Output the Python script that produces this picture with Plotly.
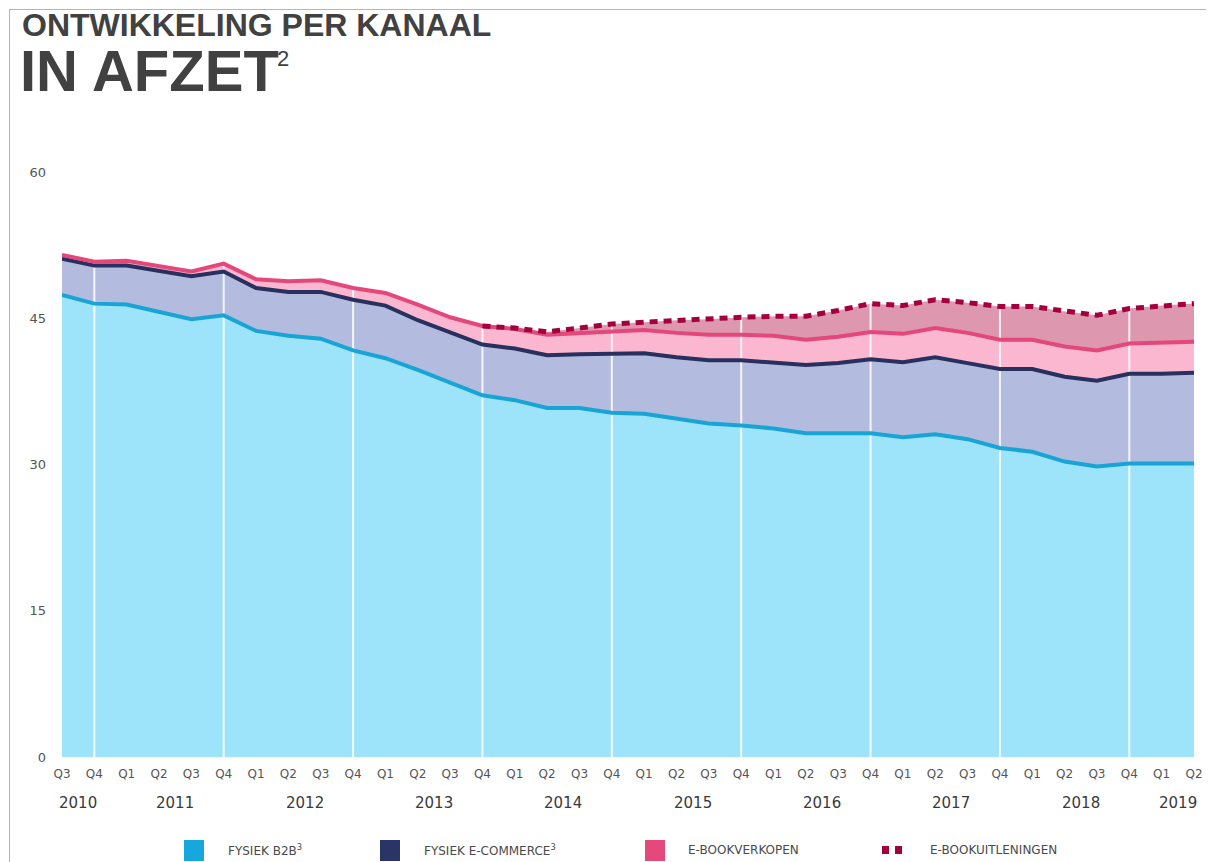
import numpy as np
import plotly.graph_objects as go

# de pagina heeft 8px body-marge: figuur iets kleiner maken
PAGE = 8
W, H = 1214 - PAGE, 862 - PAGE

# kwartalen Q3 2010 t/m Q2 2019
quarters = ['Q3', 'Q4',
            'Q1', 'Q2', 'Q3', 'Q4', 'Q1', 'Q2', 'Q3', 'Q4',
            'Q1', 'Q2', 'Q3', 'Q4', 'Q1', 'Q2', 'Q3', 'Q4',
            'Q1', 'Q2', 'Q3', 'Q4', 'Q1', 'Q2', 'Q3', 'Q4',
            'Q1', 'Q2', 'Q3', 'Q4', 'Q1', 'Q2', 'Q3', 'Q4',
            'Q1', 'Q2']
quarter_year = ['2010'] * 2 + ['2011'] * 4 + ['2012'] * 4 + ['2013'] * 4 + ['2014'] * 4 + \
               ['2015'] * 4 + ['2016'] * 4 + ['2017'] * 4 + ['2018'] * 4 + ['2019'] * 2
year_labels = ['2010', '2011', '2012', '2013', '2014', '2015', '2016', '2017', '2018', '2019']

fysiek_b2b = [47.4, 46.5, 46.4, 45.7, 44.9, 45.3, 43.7, 43.2, 42.9, 41.7,
              40.9, 39.7, 38.4, 37.1, 36.6, 35.8, 35.8, 35.3, 35.2, 34.7,
              34.2, 34.0, 33.7, 33.2, 33.2, 33.2, 32.8, 33.1, 32.6, 31.7,
              31.3, 30.3, 29.8, 30.1, 30.1, 30.1]
fysiek_ecommerce = [3.7, 3.9, 4.0, 4.2, 4.4, 4.5, 4.4, 4.5, 4.8, 5.2,
                    5.4, 5.1, 5.1, 5.2, 5.3, 5.4, 5.5, 6.0, 6.2, 6.3,
                    6.5, 6.7, 6.8, 7.0, 7.2, 7.6, 7.7, 7.9, 7.8, 8.1,
                    8.5, 8.7, 8.8, 9.2, 9.2, 9.3]
ebook_verkopen = [0.4, 0.4, 0.5, 0.5, 0.5, 0.8, 0.9, 1.1, 1.2, 1.2,
                  1.3, 1.6, 1.6, 1.9, 2.0, 2.1, 2.2, 2.3, 2.4, 2.5,
                  2.6, 2.6, 2.7, 2.6, 2.7, 2.8, 2.9, 3.0, 3.1, 3.0,
                  3.0, 3.1, 3.1, 3.1, 3.2, 3.2]
ebook_uitleningen = [None] * 13 + [0.0, 0.1, 0.3, 0.5, 0.8, 0.8, 1.3,
                                   1.6, 1.8, 2.0, 2.4, 2.7, 2.9, 2.9, 2.9, 3.1, 3.4,
                                   3.4, 3.6, 3.6, 3.6, 3.8, 3.9]

y_ticks = [0, 15, 30, 45, 60]

# plotgebied in schermpixels
L, R, T, B = 62, 1194, 172, 757


def px_x(p):
    return (p - L) / (R - L)


def px_y(p):
    return (B - p) / (B - T)


x = np.arange(len(quarters))
top_b2b = np.array(fysiek_b2b)
top_ecom = top_b2b + np.array(fysiek_ecommerce)
top_verk = top_ecom + np.array(ebook_verkopen)
uitl = np.array([np.nan if v is None else v for v in ebook_uitleningen])
top_uitl = top_verk + uitl

fig = go.Figure()

# vlakken
fills = [
    (fysiek_b2b, '#9de3fa'),
    (fysiek_ecommerce, '#b3bcde'),
    (ebook_verkopen, '#fbb7cf'),
    (ebook_uitleningen, '#dd97ae'),
]
for vals, col in fills:
    fig.add_trace(go.Scatter(x=x, y=vals, stackgroup='kanaal', mode='lines',
                             line=dict(width=0), fillcolor=col,
                             showlegend=False, hoverinfo='skip'))

# witte jaarscheidingen op Q4
tops = np.fmax(top_verk, top_uitl)
vx, vy = [], []
for i, q in enumerate(quarters):
    if q == 'Q4':
        vx += [x[i], x[i], None]
        vy += [0, tops[i], None]
fig.add_trace(go.Scatter(x=vx, y=vy, mode='lines', line=dict(color='rgba(255,255,255,0.85)', width=2),
                         showlegend=False, hoverinfo='skip'))

# lijnen
fig.add_trace(go.Scatter(x=x, y=top_b2b, mode='lines', line=dict(color='#18a5d6', width=4),
                         showlegend=False))
fig.add_trace(go.Scatter(x=x, y=top_ecom, mode='lines', line=dict(color='#27305e', width=4),
                         showlegend=False))
fig.add_trace(go.Scatter(x=x, y=top_verk, mode='lines', line=dict(color='#e4487a', width=4),
                         showlegend=False))
fig.add_trace(go.Scatter(x=x, y=top_uitl, mode='lines',
                         line=dict(color='#a3003d', width=5, dash='8px,6px'),
                         showlegend=False))

annotations = []
# jaartallen
for yr in year_labels:
    idx = [i for i, q in enumerate(quarter_year) if q == yr]
    annotations.append(dict(x=float(np.mean(idx)), y=px_y(803), xref='x', yref='paper',
                            text=yr, showarrow=False, xanchor='center', yanchor='middle',
                            font=dict(family='DejaVu Sans', size=15, color='#3a3a3a')))

# titel
annotations.append(dict(x=px_x(20), y=px_y(25), xref='paper', yref='paper',
                        text='<b>ONTWIKKELING PER KANAAL</b>', showarrow=False,
                        xanchor='left', yanchor='middle',
                        font=dict(family='Liberation Sans', size=32, color='#414141')))
annotations.append(dict(x=px_x(18), y=px_y(71), xref='paper', yref='paper',
                        text='<b>IN AFZET</b>', showarrow=False,
                        xanchor='left', yanchor='middle',
                        font=dict(family='Liberation Sans', size=58, color='#414141')))
annotations.append(dict(x=px_x(275), y=px_y(58), xref='paper', yref='paper',
                        text='2', showarrow=False,
                        xanchor='left', yanchor='middle',
                        font=dict(family='Liberation Sans', size=22, color='#414141')))

# legenda
legend_items = [
    ('FYSIEK B2B<sup>3</sup>', '#16a8dc', 184, 226),
    ('FYSIEK E-COMMERCE<sup>3</sup>', '#283566', 380, 422),
    ('E-BOOKVERKOPEN', '#e5487a', 645, 686),
    ('E-BOOKUITLENINGEN', '#a3003d', None, 928),
]
shapes = []
for label, col, sq, tx in legend_items:
    if sq is not None:
        shapes.append(dict(type='rect', xref='paper', yref='paper',
                           x0=px_x(sq), x1=px_x(sq + 20), y0=px_y(840), y1=px_y(861),
                           fillcolor=col, line=dict(width=0)))
    else:
        for s in (882, 895):
            shapes.append(dict(type='rect', xref='paper', yref='paper',
                               x0=px_x(s), x1=px_x(s + 7), y0=px_y(846), y1=px_y(854),
                               fillcolor=col, line=dict(width=0)))
    annotations.append(dict(x=px_x(tx), y=px_y(850), xref='paper', yref='paper',
                            text=label, showarrow=False, xanchor='left', yanchor='middle',
                            font=dict(family='DejaVu Sans', size=12, color='#4a4a4a')))

# kader
shapes.append(dict(type='line', xref='paper', yref='paper', x0=px_x(9), x1=px_x(1220),
                   y0=px_y(9.5), y1=px_y(9.5), line=dict(color='#b5b5b5', width=1)))
shapes.append(dict(type='line', xref='paper', yref='paper', x0=px_x(9.5), x1=px_x(9.5),
                   y0=px_y(9), y1=px_y(870), line=dict(color='#b5b5b5', width=1)))

fig.update_layout(
    width=W, height=H,
    margin=dict(l=L - PAGE, r=1214 - R, t=T - PAGE, b=862 - B),
    paper_bgcolor='white', plot_bgcolor='white',
    showlegend=False,
    annotations=annotations,
    shapes=shapes,
)
fig.update_xaxes(range=[0, len(quarters) - 1], tickvals=x, ticktext=quarters,
                 showgrid=False, zeroline=False, showline=False, ticks='',
                 ticklabelstandoff=8,
                 tickfont=dict(family='DejaVu Sans', size=12, color='#555555'))
fig.update_yaxes(range=[0, 60], tickvals=y_ticks, showgrid=False, zeroline=False,
                 showline=False, ticks='', ticklabelstandoff=15,
                 tickfont=dict(family='DejaVu Sans', size=13, color='#555555'))

fig.write_html('out.html')
